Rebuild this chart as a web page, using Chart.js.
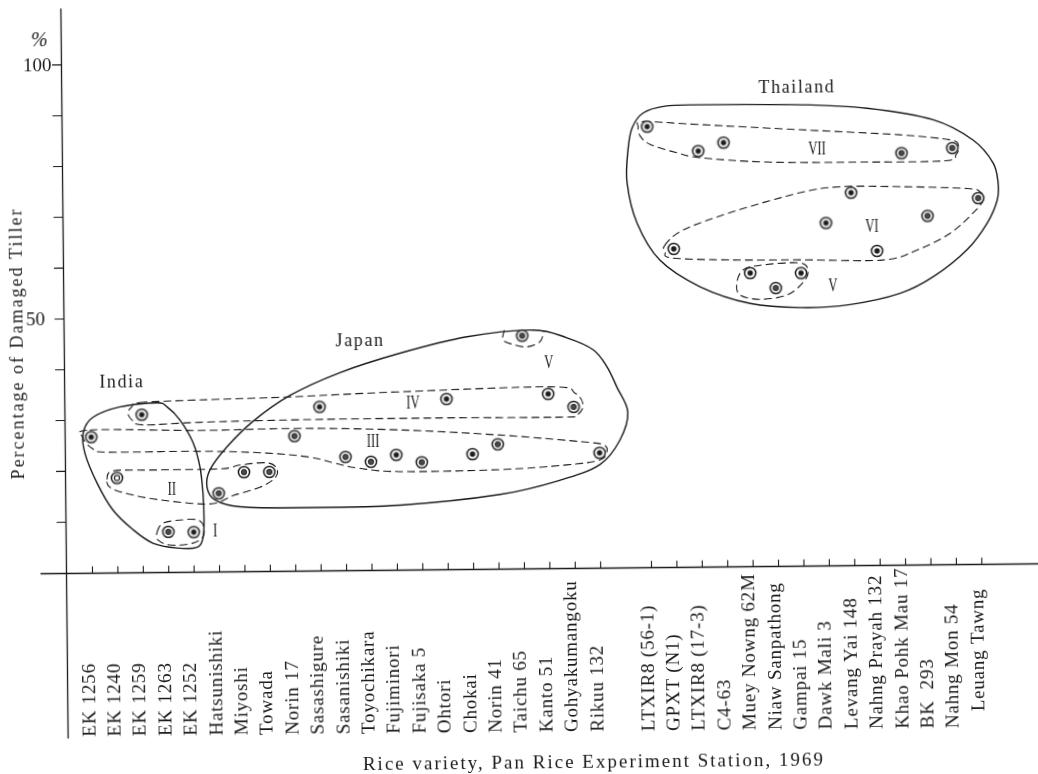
<!DOCTYPE html>
<html>
<head>
<meta charset="utf-8">
<script src="https://cdn.jsdelivr.net/npm/chart.js@4.4.1/dist/chart.umd.min.js"></script>
<style>
  html, body { margin: 0; padding: 0; background: #fff; overflow: hidden; }
  #wrap { width: 1038px; height: 774px; position: relative; overflow: hidden; background: #fff; }
  /* the printed plate sits slightly askew on the page */
  #c { display: block; transform-origin: 66.5px 573px; transform: rotate(-0.57deg); }
</style>
</head>
<body>
<div id="wrap"><canvas id="c" width="1050" height="800"></canvas></div>
<script>
// Rice varieties in plotting order; the empty slot separates Japan from Thailand
const varieties = [
  'EK 1256', 'EK 1240', 'EK 1259', 'EK 1263', 'EK 1252',
  'Hatsunishiki', 'Miyoshi', 'Towada', 'Norin 17', 'Sasashigure', 'Sasanishiki',
  'Toyochikara', 'Fujiminori', 'Fujisaka 5', 'Ohtori', 'Chokai', 'Norin 41',
  'Taichu 65', 'Kanto 51', 'Gohyakumangoku', 'Rikuu 132',
  '',
  'LTXIR8 (56-1)', 'GPXT (N1)', 'LTXIR8 (17-3)', 'C4-63', 'Muey Nowng 62M',
  'Niaw Sanpathong', 'Gampai 15', 'Dawk Mali 3', 'Levang Yai 148', 'Nahng Prayah 132',
  'Khao Pohk Mau 17', 'BK  293', 'Nahng Mon 54', '   Leuang Tawng'
];

// Percentage of damaged tillers per variety
const damagedPct = [
  26.7, 18.6, 31.0, 7.9, 7.8,
  15.4, 19.5, 19.5, 26.5, 32.2, 22.3,
  21.3, 22.6, 21.1, 33.5, 22.6, 24.5,
  45.8, 34.3, 31.7, 22.6,
  null,
  86.7, 62.6, 81.8, 83.4, 57.7,
  54.7, 57.6, 67.4, 73.3, 61.8,
  81.0, 68.6, 81.9, 72.0
];

const yTickValues = [10, 20, 30, 40, 50, 60, 70, 80, 90, 100];
const yTickLabels = { 50: '50', 100: '100' };
const yUnit = '%';
const yTitle = 'Percentage of Damaged Tiller';
const xTitle = 'Rice variety, Pan Rice Experiment Station, 1969';

const countryNames = ['India', 'Japan', 'Thailand'];
const groupNames = ['I', 'II', 'III', 'IV', 'V', 'VI', 'VII'];

// ---- drawing style ----
const ink = '#1a1a1a';
const serif = '"Liberation Serif", "Times New Roman", serif';

// centre of each marker: dark dot, grey dot or open ring
const markerKind = [
  'solid', 'open', 'solid', 'grey', 'solid',
  'grey', 'grey', 'grey', 'grey', 'solid', 'grey',
  'grey', 'solid', 'grey', 'solid', 'solid', 'grey',
  'grey', 'solid', 'grey', 'solid',
  null,
  'solid', 'solid', 'solid', 'solid', 'solid',
  'grey', 'solid', 'solid', 'solid', 'solid',
  'grey', 'grey', 'grey', 'grey'
];

function makeMarker(kind) {
  const m = document.createElement('canvas');
  m.width = 16; m.height = 16;
  const g = m.getContext('2d');
  g.beginPath(); g.arc(8, 8, 5.6, 0, Math.PI * 2);
  g.fillStyle = '#fff'; g.fill();
  g.lineWidth = 1.5; g.strokeStyle = ink; g.stroke();
  g.beginPath(); g.arc(8, 8, kind === 'open' ? 2.6 : 2.7, 0, Math.PI * 2);
  if (kind === 'solid') { g.fillStyle = ink; g.fill(); }
  else if (kind === 'grey') { g.fillStyle = '#4a4a4a'; g.fill(); g.lineWidth = 0.9; g.stroke(); }
  else { g.lineWidth = 1.1; g.stroke(); }
  return m;
}
const markers = { solid: makeMarker('solid'), grey: makeMarker('grey'), open: makeMarker('open') };

// Country envelopes (solid) and cluster loops (dashed), in category-index / percent units
const envelopes = [
  { dash: false, closed: true, pts: [[2.61,33.3],[1.15,32.6],[0.08,30.6],[-0.31,27.6],[-0.25,23.5],[0.22,17.6],[0.83,12.3],[1.61,8.4],[2.39,5.7],[3.34,4.7],[4.12,4.8],[4.36,6.6],[4.41,10.1],[4.38,15.4],[4.27,20.6],[4.01,25.4],[3.50,29.9],[3.00,32.5]] },
  { dash: false, closed: true, pts: [[4.54,16.6],[4.66,20.0],[5.34,24.5],[6.38,29.5],[7.84,34.5],[9.82,38.9],[12.19,42.6],[14.83,45.7],[17.44,46.9],[18.76,45.3],[19.79,42.9],[20.33,39.5],[20.71,35.5],[21.13,30.6],[20.81,25.1],[20.01,20.3],[18.44,17.3],[16.07,14.6],[12.13,12.7],[8.20,12.4],[5.83,12.7],[4.85,14.1]] },
  { dash: false, closed: true, pts: [[22.71,90.7],[24.09,90.9],[28.02,90.7],[30.66,89.9],[33.26,87.5],[34.83,83.4],[35.60,78.9],[35.79,75.0],[35.75,71.6],[35.35,67.1],[34.55,61.9],[33.20,56.6],[31.89,53.4],[29.92,51.3],[27.94,50.8],[25.99,51.7],[24.02,55.1],[22.45,60.4],[21.57,67.7],[21.19,75.7],[21.24,82.2],[21.41,86.5],[21.85,89.4]] },
  // I
  { dash: true, closed: true, pts: [[2.56,7.9],[2.79,9.6],[3.46,10.2],[4.17,10.2],[4.41,8.6],[4.32,6.6],[3.85,5.5],[3.06,5.3],[2.59,6.3]] },
  // II
  { dash: true, closed: true, pts: [[0.61,18.4],[0.85,20.0],[2.30,20.1],[5.06,20.2],[5.84,20.9],[6.91,21.3],[7.30,20.1],[7.22,18.3],[6.62,16.5],[5.56,14.9],[4.65,13.3],[2.69,14.2],[1.39,15.5],[0.72,16.8]] },
  // III
  { dash: true, closed: true, pts: [[-0.04,28.1],[4.29,27.8],[8.23,28.0],[12.16,27.5],[16.09,26.3],[19.35,24.8],[20.14,24.2],[20.30,23.0],[20.01,21.2],[18.71,20.3],[16.08,19.5],[12.14,19.3],[10.45,20.1],[9.50,21.2],[8.61,22.3],[6.92,23.2],[4.28,23.7],[0.62,23.7],[0.03,24.5],[-0.32,26.6]] },
  // IV
  { dash: true, closed: true, pts: [[1.94,33.4],[4.30,33.8],[7.72,34.2],[12.17,35.0],[18.07,35.7],[19.06,34.4],[19.37,32.1],[19.13,30.1],[18.46,29.7],[13.46,29.8],[8.23,29.7],[4.29,29.4],[2.05,29.0],[1.61,30.0],[1.46,31.4],[1.62,32.6]] },
  // V (Japan), hanging from the envelope
  { dash: true, closed: false, pts: [[16.30,46.9],[16.25,45.0],[16.64,44.1],[17.19,43.6],[17.70,44.6],[17.86,46.7]] },
  // VII
  { dash: true, closed: true, pts: [[21.85,87.7],[24.09,87.0],[28.01,85.8],[31.95,84.6],[33.92,83.5],[34.24,82.4],[34.15,80.6],[33.71,79.4],[30.64,79.3],[26.70,79.5],[24.07,80.5],[23.17,81.5],[22.11,83.2],[21.72,84.9],[21.65,86.7]] },
  // VI
  { dash: true, closed: true, pts: [[22.66,63.4],[23.38,66.3],[25.35,69.8],[27.99,73.4],[29.57,74.5],[31.93,74.4],[34.57,73.9],[35.08,73.2],[35.20,71.6],[34.80,69.1],[33.88,65.1],[32.58,61.9],[31.23,60.0],[27.96,60.2],[25.33,60.3],[22.93,60.8],[22.66,62.0]] },
  // V (Thailand)
  { dash: true, closed: true, pts: [[25.72,58.3],[26.39,59.2],[27.96,59.6],[28.28,57.9],[28.07,55.7],[27.44,53.3],[26.38,52.5],[25.59,53.4],[25.47,55.8]] }
];

// Where the country and cluster names sit
const countryAt = [[1.23,37.3],[10.62,45.1],[27.91,94.1]];
const groupAt = [
  { name: 0, at: [4.84,7.8] }, { name: 1, at: [3.16,16.1] }, { name: 2, at: [11.09,25.2] },
  { name: 3, at: [12.68,32.6] }, { name: 4, at: [18.04,40.3] }, { name: 6, at: [28.68,81.8] },
  { name: 5, at: [30.81,66.5] }, { name: 4, at: [29.25,54.8] }
];

function curvePath(ctx, pts, closed) {
  const n = pts.length;
  ctx.beginPath();
  ctx.moveTo(pts[0][0], pts[0][1]);
  const segs = closed ? n : n - 1;
  for (let i = 0; i < segs; i++) {
    const p0 = pts[closed ? (i - 1 + n) % n : Math.max(i - 1, 0)];
    const p1 = pts[i];
    const p2 = pts[closed ? (i + 1) % n : i + 1];
    const p3 = pts[closed ? (i + 2) % n : Math.min(i + 2, n - 1)];
    ctx.bezierCurveTo(
      p1[0] + (p2[0] - p0[0]) / 6, p1[1] + (p2[1] - p0[1]) / 6,
      p2[0] - (p3[0] - p1[0]) / 6, p2[1] - (p3[1] - p1[1]) / 6,
      p2[0], p2[1]);
  }
  if (closed) ctx.closePath();
}

function drawText(ctx, s, x, y, o) {
  ctx.save();
  ctx.font = o.font;
  ctx.fillStyle = o.color || ink;
  ctx.letterSpacing = (o.spacing || 0) + 'px';
  ctx.textAlign = o.align || 'center';
  ctx.textBaseline = o.baseline || 'middle';
  ctx.translate(x, y);
  if (o.rot) ctx.rotate(o.rot);
  if (o.sx) ctx.scale(o.sx, 1);
  ctx.fillText(s, 0, 0);
  ctx.restore();
}

const paperPlugin = {
  id: 'paper',
  beforeDraw(chart) {
    const c = chart.ctx;
    c.save(); c.fillStyle = '#fff'; c.fillRect(0, 0, chart.width, chart.height); c.restore();
  },
  beforeDatasetsDraw(chart) {
    const c = chart.ctx, xs = chart.scales.x, ys = chart.scales.y, area = chart.chartArea;
    const px = v => xs.getPixelForValue(v), py = v => ys.getPixelForValue(v);
    const x0 = Math.round(area.left) + 0.5, y0 = Math.round(py(0)) + 0.5;

    c.save();
    c.strokeStyle = ink;
    c.lineCap = 'round';

    // axes
    c.lineWidth = 1.3;
    c.beginPath();
    c.moveTo(x0, area.top); c.lineTo(x0, 738);
    c.moveTo(41, y0); c.lineTo(chart.width, y0);
    c.stroke();

    // y ticks and labels
    c.lineWidth = 1.1;
    yTickValues.forEach(v => {
      const y = py(v);
      c.beginPath(); c.moveTo(x0 - 9, y); c.lineTo(x0, y); c.stroke();
      if (yTickLabels[v]) {
        drawText(c, yTickLabels[v], v === 100 ? x0 - 10 : x0 - 19, y + 1,
          { font: '19px ' + serif, align: 'right' });
      }
    });
    drawText(c, yUnit, x0 - 22, py(104.8), { font: 'italic 20px ' + serif });

    // x ticks and rotated variety names
    varieties.forEach((name, i) => {
      if (!name) return;
      const x = px(i);
      c.beginPath(); c.moveTo(x, y0 - 6.5); c.lineTo(x, y0); c.stroke();
      drawText(c, name, x + 1, 737, { font: '19px ' + serif, align: 'left', baseline: 'alphabetic', rot: -Math.PI / 2, spacing: 0.8 });
    });

    // axis titles
    drawText(c, yTitle, 20, 343, { font: '18px ' + serif, rot: -Math.PI / 2, spacing: 2 });
    drawText(c, xTitle, 592, 773, { font: '19px ' + serif, baseline: 'alphabetic', spacing: 2 });

    // envelopes and clusters
    envelopes.forEach(e => {
      const pts = e.pts.map(p => [px(p[0]), py(p[1])]);
      c.lineWidth = e.dash ? 1.1 : 1.4;
      c.setLineDash(e.dash ? [7, 5] : []);
      curvePath(c, pts, e.closed);
      c.stroke();
    });
    c.setLineDash([]);

    countryNames.forEach((n, i) => {
      drawText(c, n, px(countryAt[i][0]), py(countryAt[i][1]), { font: '18px ' + serif, spacing: 1.6 });
    });
    groupAt.forEach(g => {
      drawText(c, groupNames[g.name], px(g.at[0]), py(g.at[1]), { font: '18px ' + serif, sx: 0.7 });
    });
    c.restore();
  }
};

const points = [];
damagedPct.forEach((v, i) => { if (v !== null) points.push({ x: i, y: v }); });

new Chart(document.getElementById('c'), {
  type: 'scatter',
  data: {
    datasets: [{
      data: points,
      pointStyle: ctx => (ctx.raw ? markers[markerKind[ctx.raw.x]] : 'circle'),
      pointRadius: 6,
      clip: false
    }]
  },
  options: {
    responsive: false,
    animation: false,
    events: [],
    layout: { padding: { left: 66, right: 12, top: 9, bottom: 227 } },
    plugins: { legend: { display: false }, tooltip: { enabled: false } },
    scales: {
      x: { type: 'linear', min: -1.043, max: 37.21, display: false },
      y: { type: 'linear', min: 0, max: 111, display: false }
    }
  },
  plugins: [paperPlugin]
});
</script>
</body>
</html>
